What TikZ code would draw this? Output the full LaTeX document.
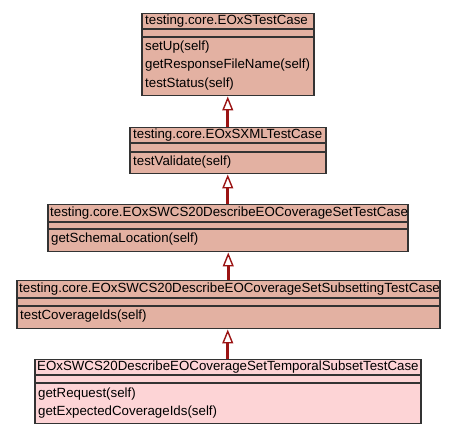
\documentclass[tikz,border=0pt]{standalone}
\usepackage{fontspec}
\setmainfont{Liberation Sans}
\usetikzlibrary{arrows.meta}
\definecolor{basefill}{HTML}{E3B1A2}
\definecolor{leaffill}{HTML}{FDD4D6}
\definecolor{edgered}{HTML}{9B1414}
\definecolor{boxline}{HTML}{333333}
\tikzset{
  classbox/.style={draw=boxline, line width=1.5pt, fill=basefill, inner sep=0pt, anchor=north west},
  leafbox/.style={classbox, fill=leaffill},
  member/.style={anchor=west, inner sep=0pt, font=\fontsize{13.3}{15}\selectfont},
  sepline/.style={draw=boxline, line width=1.5pt},
  inherit/.style={draw=edgered, line width=2.8pt,
    -{Triangle[open, length=14pt, width=11pt, line width=1.4pt, fill=white]}}
}
\begin{document}
\begin{tikzpicture}[x=1pt, y=-1pt]
  \path[use as bounding box, fill=white] (0,0) rectangle (456,435);

  % testing.core.EOxSTestCase
  \node[classbox, minimum width=172pt, minimum height=82pt] (c1) at (141,13) {};
  \draw[sepline] (c1.west |- 0,29) -- (c1.east |- 0,29);
  \draw[sepline] (c1.west |- 0,37) -- (c1.east |- 0,37);
  \node[member] (c1t) at (145,21) {testing.core.EOxSTestCase};
  \node[member] (c1a) at (145,47) {setUp(self)};
  \node[member] (c1b) at (145,65.5) {getResponseFileName(self)};
  \node[member] (c1c) at (145,84) {testStatus(self)};

  % testing.core.EOxSXMLTestCase
  \node[classbox, minimum width=196pt, minimum height=46pt] (c2) at (129,127) {};
  \draw[sepline] (c2.west |- 0,143) -- (c2.east |- 0,143);
  \draw[sepline] (c2.west |- 0,152) -- (c2.east |- 0,152);
  \node[member] (c2t) at (133,135) {testing.core.EOxSXMLTestCase};
  \node[member] (c2a) at (133,162) {testValidate(self)};

  % testing.core.EOxSWCS20DescribeEOCoverageSetTestCase
  \node[classbox, minimum width=360pt, minimum height=47pt] (c3) at (47,204) {};
  \draw[sepline] (c3.west |- 0,222) -- (c3.east |- 0,222);
  \draw[sepline] (c3.west |- 0,229) -- (c3.east |- 0,229);
  \node[member] (c3t) at (50,213) {testing.core.EOxSWCS20DescribeEOCoverageSetTestCase};
  \node[member] (c3a) at (51,239.5) {getSchemaLocation(self)};

  % testing.core.EOxSWCS20DescribeEOCoverageSetSubsettingTestCase
  \node[classbox, minimum width=423pt, minimum height=48pt] (c4) at (16,280) {};
  \draw[sepline] (c4.west |- 0,298) -- (c4.east |- 0,298);
  \draw[sepline] (c4.west |- 0,306) -- (c4.east |- 0,306);
  \node[member] (c4t) at (19,289) {testing.core.EOxSWCS20DescribeEOCoverageSetSubsettingTestCase};
  \node[member] (c4a) at (20,316.5) {testCoverageIds(self)};

  % EOxSWCS20DescribeEOCoverageSetTemporalSubsetTestCase
  \node[leafbox, minimum width=386pt, minimum height=64pt] (c5) at (34,359) {};
  \draw[sepline] (c5.west |- 0,375) -- (c5.east |- 0,375);
  \draw[sepline] (c5.west |- 0,383) -- (c5.east |- 0,383);
  \node[member] (c5t) at (37,367) {EOxSWCS20DescribeEOCoverageSetTemporalSubsetTestCase};
  \node[member] (c5a) at (38,394) {getRequest(self)};
  \node[member] (c5b) at (38,412) {getExpectedCoverageIds(self)};

  % inheritance links, child to parent
  \draw[inherit] (c2.north) -- (c2.north |- c1.south);
  \draw[inherit] (c3.north) -- (c3.north |- c2.south);
  \draw[inherit] (c4.north) -- (c4.north |- c3.south);
  \draw[inherit] (c5.north) -- (c5.north |- c4.south);
\end{tikzpicture}
\end{document}
